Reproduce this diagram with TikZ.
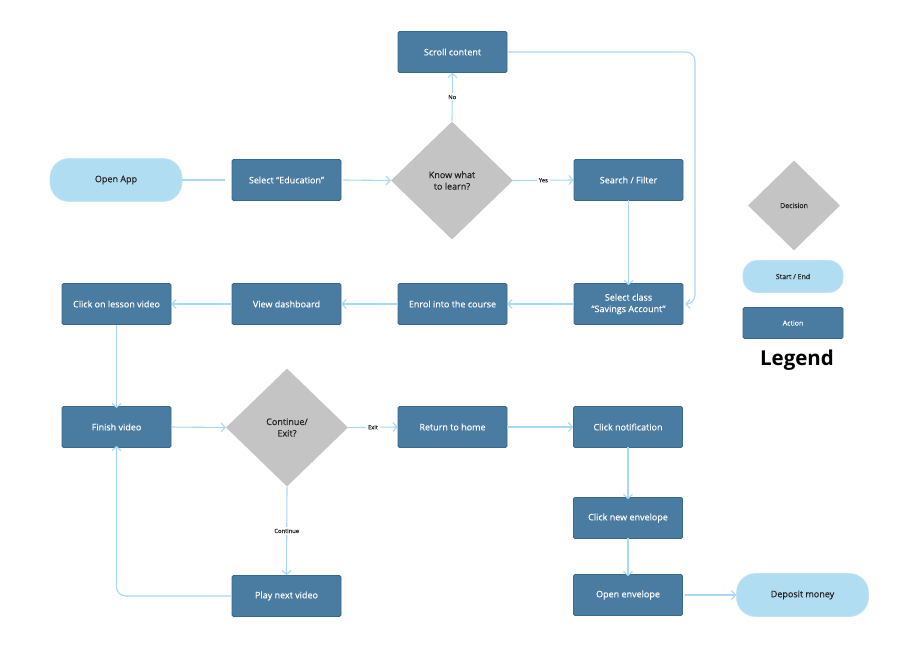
\documentclass[tikz,border=0pt]{standalone}
\usepackage{fontspec}
\setmainfont{Open Sans}
\newfontfamily\medfont[FakeBold=0.4]{Open Sans}
\usetikzlibrary{arrows.meta,shapes.geometric}
\definecolor{actfill}{HTML}{4A7BA0}
\definecolor{actdraw}{HTML}{3A6889}
\definecolor{termfill}{HTML}{B1DDF3}
\definecolor{decfill}{HTML}{C4C4C4}
\definecolor{linec}{HTML}{A9D8F2}
\definecolor{txt}{HTML}{222222}
\begin{document}
\begin{tikzpicture}[x=1pt,y=-1pt,
  action/.style={draw=actdraw, fill=actfill, line width=0.8pt, rounded corners=1.5pt,
    minimum width=109pt, minimum height=41pt, text=white, align=center, inner sep=0pt,
    font=\medfont\fontsize{9}{11.5}\selectfont},
  term/.style={fill=termfill, draw=termfill!80!white, line width=0.6pt, rounded corners=19pt,
    minimum width=132pt, minimum height=43pt, text=txt, inner sep=0pt,
    font=\medfont\fontsize{9}{11.5}\selectfont},
  decision/.style={diamond, aspect=1, fill=decfill, inner sep=0pt, minimum width=122pt,
    minimum height=118pt, text=txt, align=center, font=\medfont\fontsize{9}{11.5}\selectfont},
  conn/.style={draw=linec, line width=1.1pt, -{Straight Barb[length=4pt,width=9pt]}},
  plain/.style={draw=linec, line width=1.1pt},
  lbl/.style={fill=white, text=txt, inner sep=2pt, font=\medfont\fontsize{5.8}{7}\selectfont}
]
\fill[white] (0,0) rectangle (915,651);
\useasboundingbox (0,0) rectangle (915,651);

% nodes
\node[action] (scroll) at (452.5,52) {Scroll content};
\node[decision] (know) at (452,180.5) {Know what\\to learn?};
\node[term] (open) at (116,180) {Open App};
\node[action] (edu) at (286.5,180) {Select “Education”};
\node[action] (search) at (628.5,180) {Search / Filter};
\node[action] (selc) at (628.5,304) {Select class\\“Savings Account”};
\node[action] (enrol) at (452.5,304) {Enrol into the course};
\node[action] (dash) at (286.5,304) {View dashboard};
\node[action] (lesson) at (116.5,304) {Click on lesson video};
\node[action] (finish) at (116.5,427) {Finish video};
\node[decision] (cont) at (287,427.5) {Continue/\\Exit?};
\node[action] (home) at (452.5,427) {Return to home};
\node[action] (notif) at (628,427) {Click notification};
\node[action] (env) at (628,518) {Click new envelope};
\node[action] (openenv) at (628,595) {Open envelope};
\node[term] (deposit) at (802.5,595) {Deposit money};
\node[action] (play) at (286.5,596) {Play next video};

% legend
\node[decision, minimum width=92pt, minimum height=90pt, font=\medfont\fontsize{7}{8}\selectfont] (ldec) at (794,205.5) {Decision};
\node[term, minimum width=100pt, minimum height=32pt, rounded corners=14pt, font=\medfont\fontsize{7}{8}\selectfont] (lterm) at (793,276.5) {Start / End};
\node[action, minimum width=100pt, minimum height=31pt, font=\medfont\fontsize{7}{8}\selectfont] (lact) at (793,323) {Action};
\node[text=black, font=\bfseries\fontsize{20.5}{24}\selectfont] (legend) at (797,360) {Legend};

% connectors
\coordinate (rr) at (695,52);
\draw[plain] (open.east) -- ([xshift=-7pt]edu.west);
\draw[conn] ([xshift=2pt]edu.east) -- (know.west);
\draw[conn] (know.north) -- node[lbl]{No} (scroll.south);
\draw[conn] (know.east) -- node[lbl]{Yes} (search.west);
\draw[conn, rounded corners=9pt] ([xshift=1pt]scroll.east) -- (rr) -- (rr |- selc.east) -- ([xshift=2pt]selc.east);
\draw[conn] ([yshift=1pt]search.south) -- ([yshift=-2pt]selc.north);
\draw[conn] (selc.west) -- (enrol.east);
\draw[conn] (enrol.west) -- (dash.east);
\draw[conn] (dash.west) -- (lesson.east);
\draw[conn] (lesson.south) -- ([yshift=-2pt]finish.north);
\draw[conn] (finish.east) -- (cont.west);
\draw[conn] (cont.east) -- node[lbl]{Exit} (home.west);
\draw[conn] (home.east) -- (notif.west);
\draw[conn] ([yshift=1pt]notif.south) -- ([yshift=-2pt]env.north);
\draw[conn] ([yshift=1pt]env.south) -- ([yshift=-2pt]openenv.north);
\draw[conn] ([xshift=2pt]openenv.east) -- (deposit.west);
\draw[conn] (cont.south) -- node[lbl]{Continue} (play.north);
\draw[conn, rounded corners=9pt] (play.west) -| ([yshift=2pt]finish.south);
\end{tikzpicture}
\end{document}
